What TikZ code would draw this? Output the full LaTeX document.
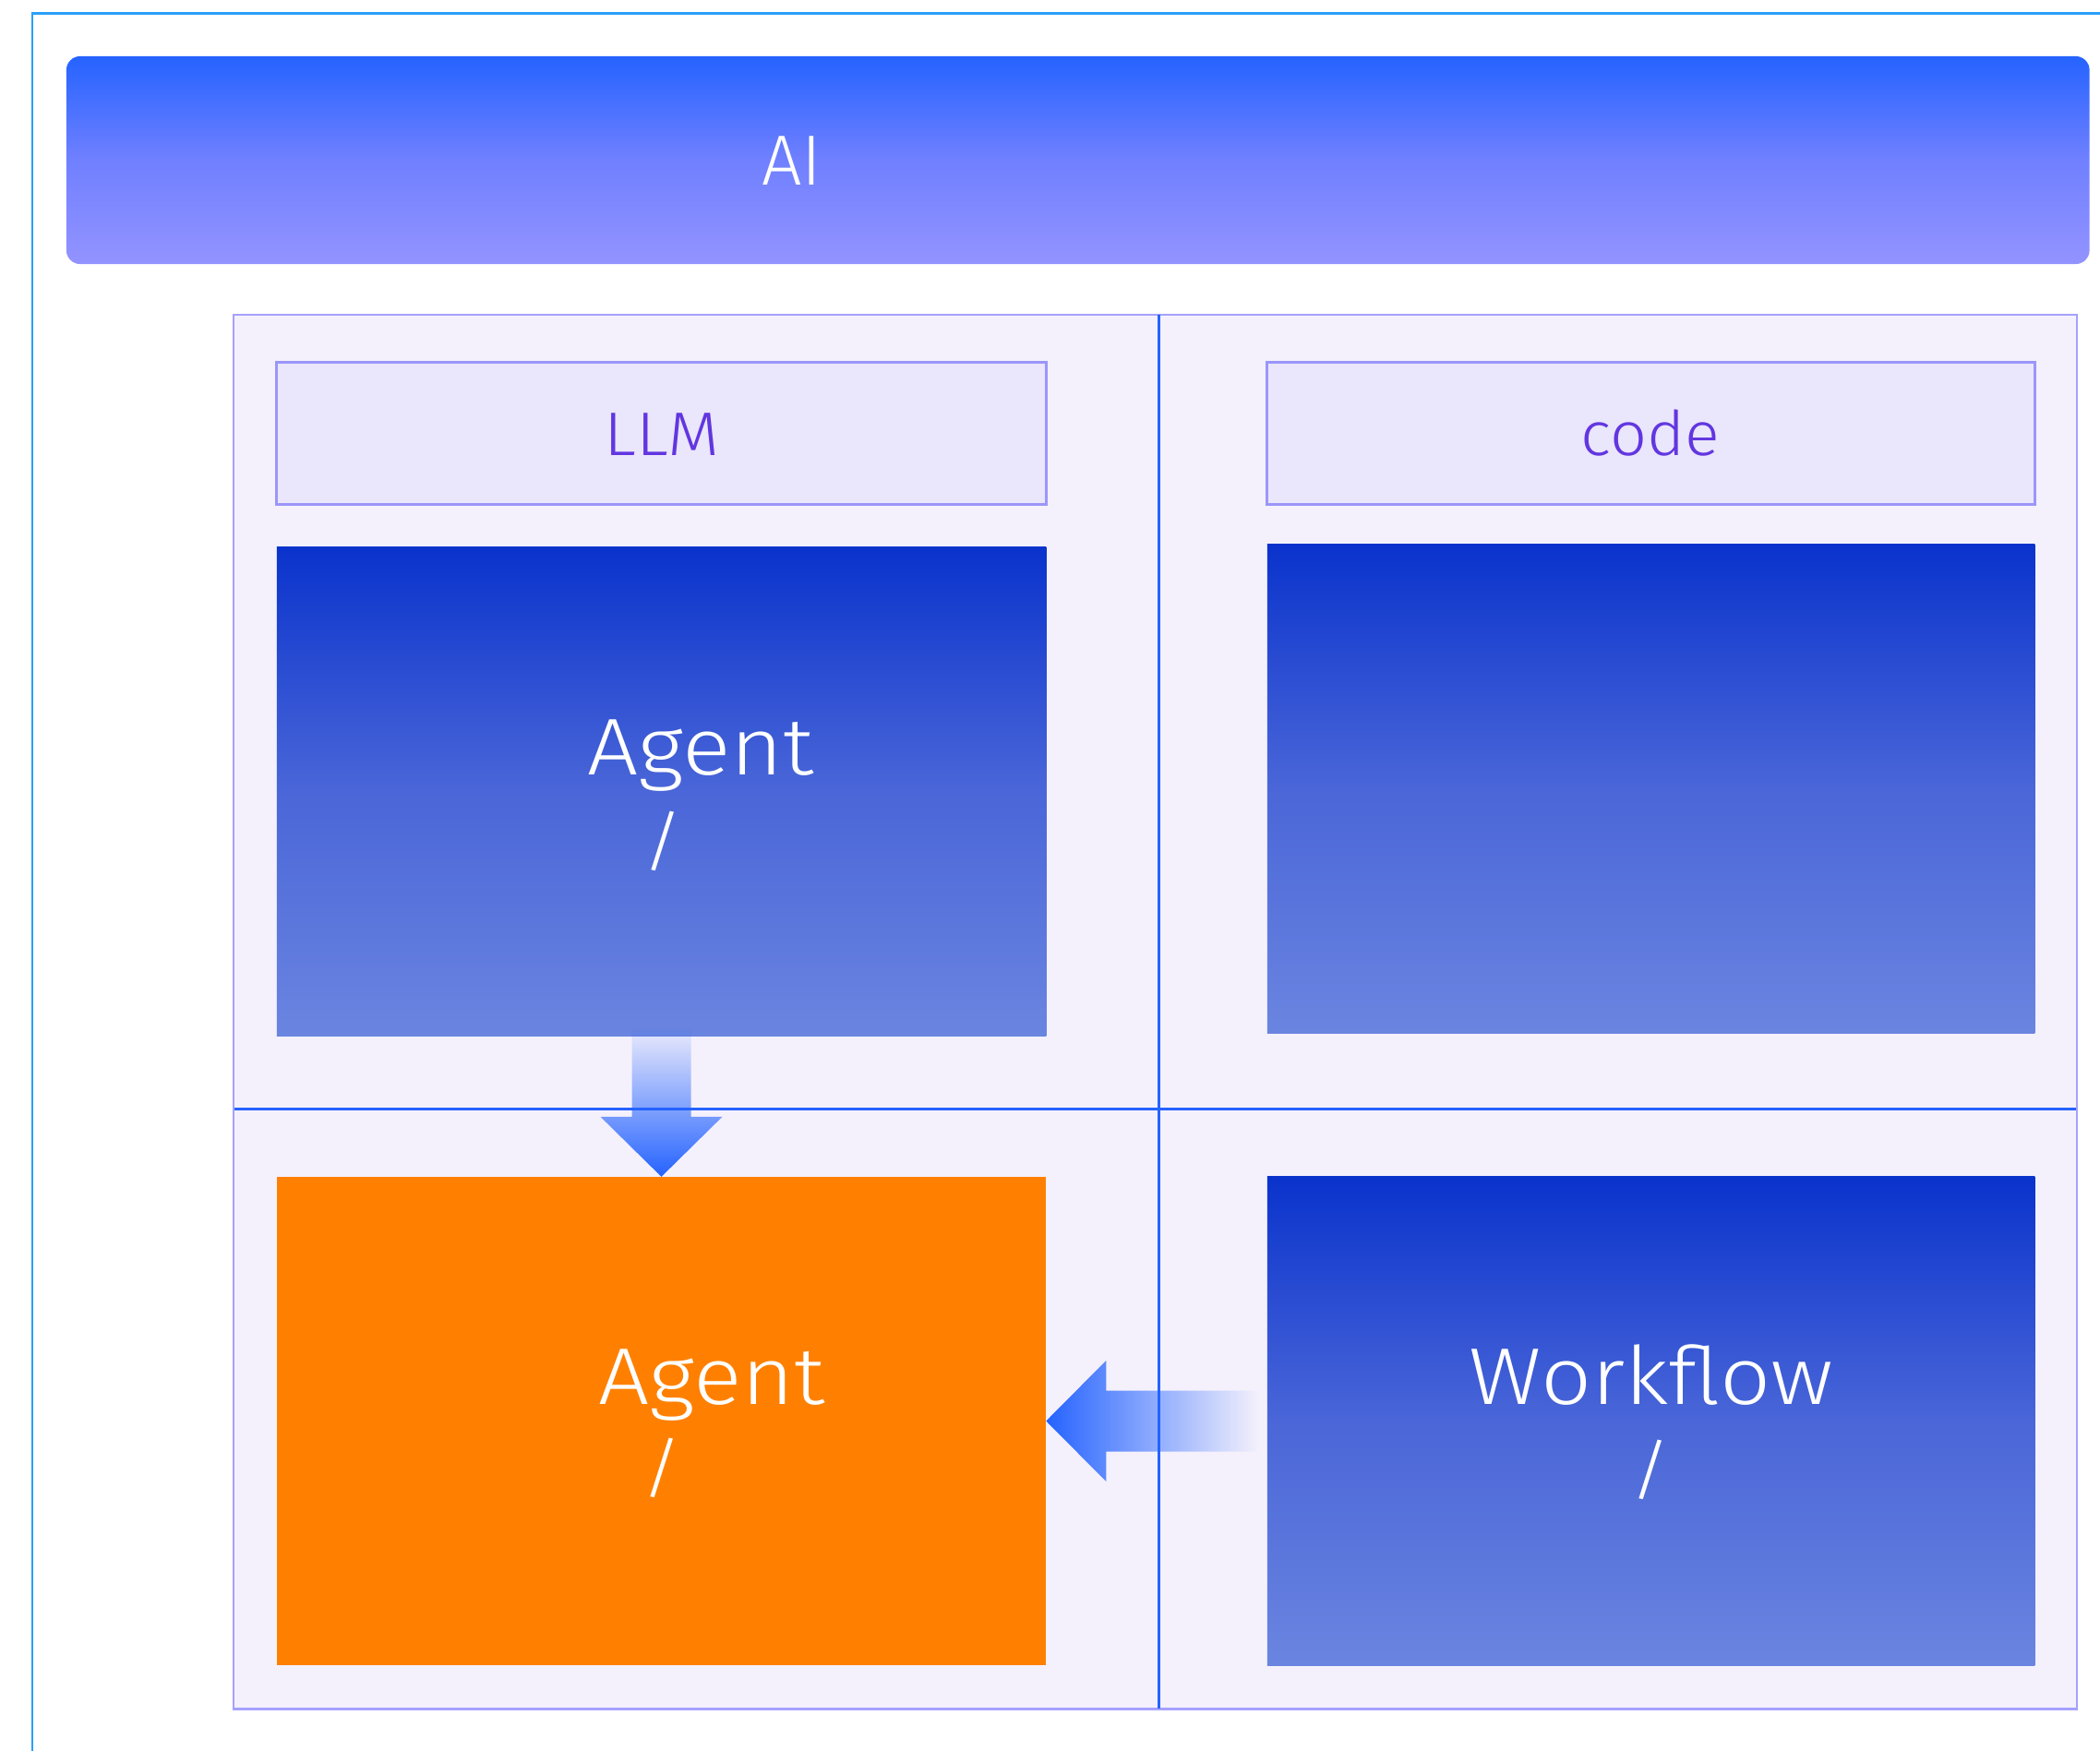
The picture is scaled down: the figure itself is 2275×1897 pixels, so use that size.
\documentclass[tikz,border=0pt]{standalone}
\usepackage{fontspec}
\usepackage{graphicx}
\setmainfont{Fira Sans Light}
\usetikzlibrary{fadings,calc}
\definecolor{framec}{RGB}{42,160,248}
\definecolor{bantop}{RGB}{37,99,255}
\definecolor{banmid}{RGB}{112,128,255}
\definecolor{banbot}{RGB}{147,147,255}
\definecolor{panelfill}{RGB}{244,241,252}
\definecolor{panelline}{RGB}{165,161,255}
\definecolor{divc}{RGB}{37,99,255}
\definecolor{hdrfill}{RGB}{234,230,251}
\definecolor{hdrline}{RGB}{155,150,250}
\definecolor{hdrtext}{RGB}{98,54,224}
\definecolor{bxtop}{RGB}{10,51,204}
\definecolor{bxmid}{RGB}{74,102,216}
\definecolor{bxbot}{RGB}{106,133,224}
\definecolor{orangec}{RGB}{255,128,0}
\definecolor{arrowc}{RGB}{37,99,255}
\tikzfading[name=fadedown, top color=transparent!95, bottom color=transparent!0]
\tikzfading[name=fadeleft, left color=transparent!0, right color=transparent!100]
\newcommand{\widen}[2]{\scalebox{#1}[1]{#2}}
\tikzset{
  boxbase/.style={rectangle, inner sep=0pt, outer sep=0pt},
  bluebox/.style={boxbase, top color=bxtop, bottom color=bxbot, middle color=bxmid},
  hdrbox/.style={boxbase, fill=hdrfill, draw=hdrline, line width=0.85pt},
  hdrtxt/.style={inner sep=0pt, anchor=base, text=hdrtext, font=\fontsize{19pt}{22pt}\selectfont},
  bigtxt/.style={inner sep=0pt, anchor=base, text=white, font=\fontsize{24.8pt}{28pt}\selectfont},
  slashtxt/.style={inner sep=0pt, anchor=center, text=white, font=\fontsize{24.8pt}{28pt}\selectfont},
  divline/.style={draw=divc, line width=0.85pt},
}
\begin{document}
\begin{tikzpicture}[x=0.01cm,y=-0.01cm]
\useasboundingbox (0,0) rectangle (2275,1897);
\fill[white] (0,0) rectangle (2275,1897);
% outer frame
\draw[framec, line width=0.85pt] (35,1920) -- (35,14.5) -- (2300,14.5);
% banner
\node[boxbase, rounded corners=0.15cm, top color=bantop, bottom color=banbot, middle color=banmid,
      minimum width=21.905cm, minimum height=2.25cm] (banner) at (1167.75,173.5) {};
\node[inner sep=0pt, anchor=base, text=white, font=\fontsize{21.9pt}{25pt}\selectfont] (ai) at (858,201) {AI};
% panel
\node[boxbase, fill=panelfill, draw=panelline, line width=0.6pt,
      minimum width=19.95cm, minimum height=15.1cm] (panel) at (1251.5,1096) {};
\coordinate (vtop) at (1255,341);
\coordinate (vbot) at (1255,1851);
\coordinate (hl) at (254,1201);
\coordinate (hr) at (2249,1201);
\draw[divline] (vtop) -- (vbot);
\draw[divline] (hl) -- (hr);
% headers
\node[hdrbox, minimum width=8.33cm, minimum height=1.53cm] (llmbox) at (716.5,469.5) {};
\node[hdrbox, minimum width=8.31cm, minimum height=1.53cm] (codebox) at (1788.5,469.5) {};
\node[hdrtxt] (llmt) at (717,493) {\widen{1.09}{LLM}};
\node[hdrtxt] (codet) at (1788,493) {\widen{1.05}{code}};
% boxes
\node[bluebox, minimum width=8.33cm, minimum height=5.29cm] (agent1) at (716.5,857.5) {};
\node[bluebox, minimum width=8.31cm, minimum height=5.29cm] (rtop) at (1788.5,854.5) {};
\node[boxbase, fill=orangec, minimum width=8.33cm, minimum height=5.29cm] (agent2) at (716.5,1539.5) {};
\node[bluebox, minimum width=8.31cm, minimum height=5.29cm] (wf) at (1788.5,1539.5) {};
% texts
\node[bigtxt] (a1t) at (759,839) {\widen{1.12}{Agent}};
\node[slashtxt] (a1s) at (718,911) {\scalebox{1}[0.82]{/}};
\node[bigtxt] (a2t) at (771,1521) {\widen{1.12}{Agent}};
\node[slashtxt] (a2s) at (717,1590) {\scalebox{1}[0.82]{/}};
\node[bigtxt] (wft) at (1789,1521) {\widen{1.11}{Workflow}};
\node[slashtxt] (wfs) at (1788,1592) {\scalebox{1}[0.82]{/}};
% down arrow: agent1 -> agent2
\fill[arrowc, path fading=fadedown]
  (agent2.north) -- ++(66,-65) -- ++(-34,0) -- ($(agent1.south)+(32,-7)$)
  -- ($(agent1.south)+(-32,-7)$) -- ($(agent2.north)+(-32,-65)$) -- ++(-34,0) -- cycle;
% left arrow: wf -> agent2
\fill[arrowc, path fading=fadeleft]
  (agent2.east) -- ++(65,-65.5) -- ++(0,32.5) -- ($(wf.west)+(-10,-33)$)
  -- ($(wf.west)+(-10,33)$) -- ($(agent2.east)+(65,33)$) -- ++(0,32.5) -- cycle;
\end{tikzpicture}
\end{document}
